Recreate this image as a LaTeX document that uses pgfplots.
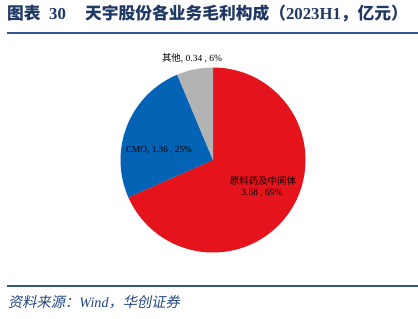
\documentclass[border=0pt]{standalone}
\usepackage{fontspec}
\usepackage{pgfplots}
\pgfplotsset{compat=1.18}
\setmainfont{Liberation Serif}
\newfontfamily\cjk{Noto Sans CJK SC}
\newfontfamily\cjkit[FakeSlant=0.2]{Noto Sans CJK SC}
\definecolor{tnavy}{RGB}{31,56,100}
\definecolor{rulec}{RGB}{47,88,140}
\definecolor{fnavy}{RGB}{35,70,130}
\definecolor{pred}{RGB}{228,19,28}
\definecolor{pblue}{RGB}{5,99,181}
\definecolor{pgray}{RGB}{179,179,179}
\begin{document}
\begin{tikzpicture}[x=1bp,y=1bp]
\useasboundingbox (0,0) rectangle (418,319);
% data (亿元)
\def\vA{3.68}\def\vB{1.36}\def\vC{0.34}
\pgfmathsetmacro\tot{\vA+\vB+\vC}
\pgfmathsetmacro\aA{90-360*\vA/\tot}
\pgfmathsetmacro\aB{\aA-360*\vB/\tot}
\def\R{92.5bp}
% title
\node[anchor=base west,inner sep=0,text=tnavy,font=\fontsize{16.8}{18}\selectfont\bfseries] at (7,299.5) {\cjk 图表};
\node[anchor=base west,inner sep=0,text=tnavy,font=\fontsize{16.8}{18}\selectfont\bfseries] at (49,299.5) {30};
\node[anchor=base west,inner sep=0,text=tnavy,font=\fontsize{16.8}{18}\selectfont\bfseries] at (85,299.5) {{\cjk 天宇股份各业务毛利构成（}2023H1{\cjk ，亿元）}};
\draw[rulec,line width=1.4bp] (7,286) -- (418,286);
\draw[rulec,line width=1.4bp] (7,33) -- (418,33);
\node[anchor=base west,inner sep=0,text=fnavy,font=\fontsize{14.3}{16}\selectfont\itshape] at (8,11.5) {{\cjkit 资料来源：}Wind{\cjkit ，华创证券}};
\begin{axis}[
  at={(113bp,59bp)}, anchor=south west,
  x=1bp, y=1bp,
  xmin=-100, xmax=100, ymin=-100, ymax=100,
  hide axis, clip=false]
\fill[pred] (axis cs:0,0) -- ++(90:\R) arc[start angle=90, end angle=\aA, radius=\R] -- cycle;
\fill[pblue] (axis cs:0,0) -- ++(\aA:\R) arc[start angle=\aA, end angle=\aB, radius=\R] -- cycle;
\fill[pgray] (axis cs:0,0) -- ++(\aB:\R) arc[start angle=\aB, end angle=-270, radius=\R] -- cycle;
\node[font=\fontsize{9.5}{11}\selectfont,inner sep=0] at (axis cs:-21,102) {{\cjk 其他}, 0.34 , 6\%};
\node[font=\fontsize{9.3}{11}\selectfont,inner sep=0] at (axis cs:-54,10) {CMO, 1.36 , 25\%};
\node[font=\fontsize{9.5}{11}\selectfont,inner sep=0] at (axis cs:50,-21) {\cjk 原料药及中间体};
\node[font=\fontsize{9.5}{11}\selectfont,inner sep=0] at (axis cs:49,-33) {3.68 , 69\%};
\end{axis}
\end{tikzpicture}
\end{document}
